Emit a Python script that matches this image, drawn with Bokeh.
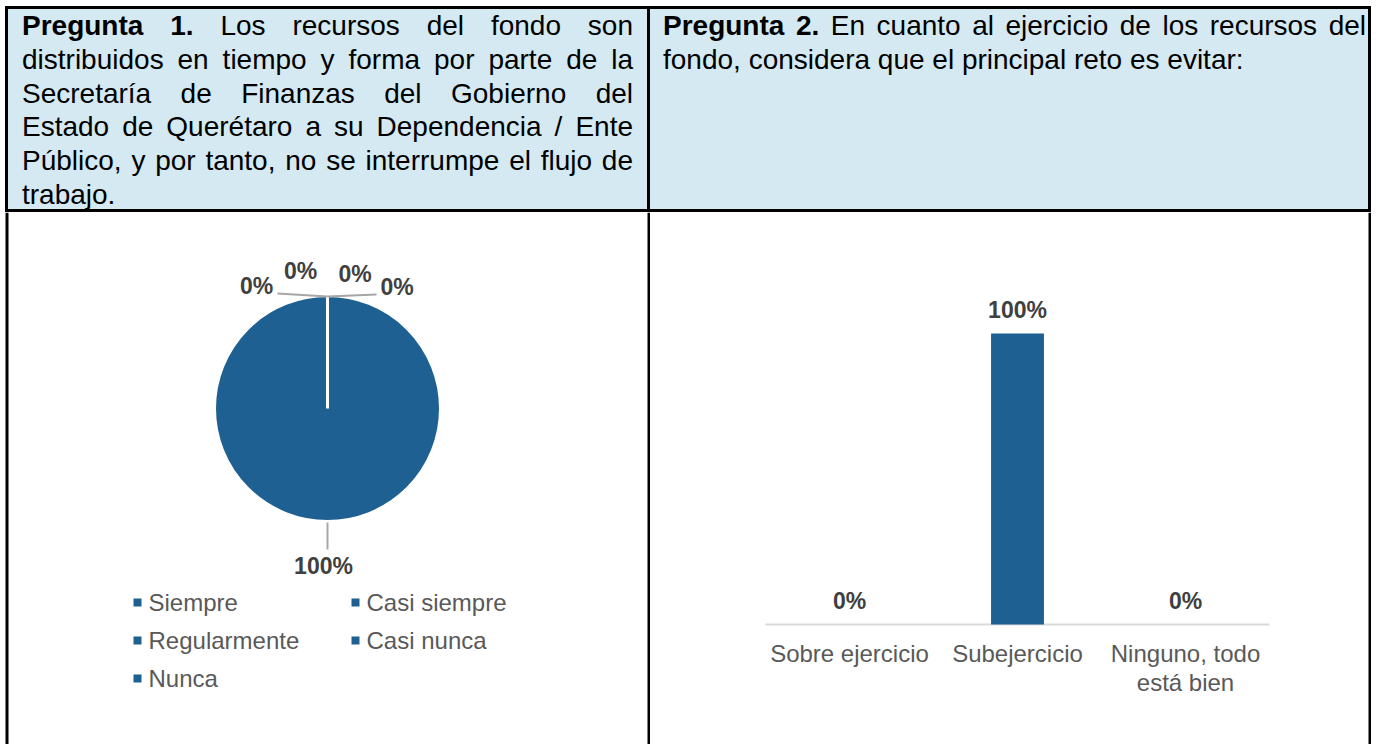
from math import pi, cos, sin
from bokeh.plotting import figure
from bokeh.models import Range1d, FactorRange, Span, Div, ColumnDataSource
from bokeh.layouts import row, column
from bokeh.core.properties import value
from bokeh.embed import file_html
from bokeh.resources import INLINE

# ---------------- data ----------------
pie_categories = ["Siempre", "Casi siempre", "Regularmente", "Casi nunca", "Nunca"]
pie_values = [100, 0, 0, 0, 0]

bar_categories = ["Sobre ejercicio", "Subejercicio", "Ninguno, todo\nestá bien"]
bar_values = [0, 100, 0]

q1_bold = "Pregunta 1."
q1_lines = [
    " Los recursos del fondo son",
    "distribuidos en tiempo y forma por parte de la",
    "Secretaría de Finanzas del Gobierno del",
    "Estado de Querétaro a su Dependencia / Ente",
    "Público, y por tanto, no se interrumpe el flujo de",
    "trabajo.",
]
q2_bold = "Pregunta 2."
q2_lines = [
    " En cuanto al ejercicio de los recursos del",
    "fondo, considera que el principal reto es evitar:",
]

# ---------------- style ----------------
BLUE = "#1F6092"
HEAD_BG = "#D4E9F2"
FONT = "Liberation Sans"
LABEL_C = "#404040"
TEXT_C = "#595959"
WL, WR, HH, HB = 650, 721, 212, 532
BAR_SHIFT = 13  # left border space of the bar cell so the chart sits where it does in the original


def header_html(bold, lines, left, width, borders, pad):
    css_b = ";".join(f"border-{s}:3px solid #000" for s in borders)
    parts = []
    for i, ln in enumerate(lines):
        content = (f"<b>{bold}</b>" if i == 0 else "") + ln
        last = i == len(lines) - 1
        just = "text-align:left" if last else "text-align:justify;text-align-last:justify"
        parts.append(f'<div style="{just};white-space:nowrap">{content}</div>')
    return (f'<div style="position:relative;left:{left}px;top:6px;box-sizing:border-box;'
            f'width:{width}px;height:{HH - 6}px;'
            f'background:{HEAD_BG};{css_b};padding:{pad};'
            f"font-family:'{FONT}',Arial,sans-serif;font-size:28px;line-height:33.8px;"
            f'color:#000;overflow:hidden;">' + "".join(parts) + "</div>")


def base_fig(w, h, **kw):
    opts = dict(width=w, height=h, output_backend="svg", toolbar_location=None,
                x_axis_location=None, y_axis_location=None, min_border=0,
                outline_line_color=None, background_fill_color="white",
                border_fill_color="white")
    opts.update(kw)
    p = figure(**opts)
    p.grid.visible = False
    return p


# ---------------- header cells ----------------
div1 = Div(text=header_html(q1_bold, q1_lines, 5, WL - 5, ["top", "left", "right", "bottom"], "0 14px 0 14px"),
           width=WL, height=HH, margin=(0, 0, 0, 0))
div2 = Div(text=header_html(q2_bold, q2_lines, 0, WR, ["top", "right", "bottom"], "0 2px 0 13px"),
           width=WR, height=HH, margin=(0, 0, 0, 0))

# ---------------- pie cell ----------------
pie = base_fig(WL, HB, x_range=Range1d(0, WL), y_range=Range1d(0, HB))
cx, cy, rad = 327, HB - 196, 113
total = float(sum(pie_values))
starts, ends, acc = [], [], 0.0
for v in pie_values:
    starts.append(pi / 2 - 2 * pi * acc / total)
    acc += v
    ends.append(pi / 2 - 2 * pi * acc / total)
src = ColumnDataSource(dict(cat=pie_categories, val=pie_values, s=starts, e=ends))
pie.wedge(x=cx, y=cy, radius=rad, radius_units="screen", start_angle="s", end_angle="e",
          direction="clock", fill_color=BLUE, line_color="white", line_width=3, source=src)

# leader lines for the zero-size slices (layout decoration)
pie.segment(x0=[277, 327], y0=[HB - 81, HB - 84], x1=[327, 376], y1=[HB - 84, HB - 82],
            line_color="#A6A6A6", line_width=2)
zero_spots = [(256, 73), (300, 58), (354.5, 61.5), (396.5, 74.5)]
lx, ly, lt = [], [], []
zi = 0
for v, s, e in zip(pie_values, starts, ends):
    if v > 0:
        mid = (s + e) / 2
        pie.segment(x0=[cx + (rad + 1) * cos(mid)], y0=[cy + (rad + 1) * sin(mid)],
                    x1=[cx + (rad + 28) * cos(mid)], y1=[cy + (rad + 28) * sin(mid)],
                    line_color="#A6A6A6", line_width=2)
        lx.append(cx + (rad + 44) * cos(mid) - 4)
        ly.append(cy + (rad + 44) * sin(mid))
    else:
        px, py = zero_spots[zi % len(zero_spots)]
        zi += 1
        lx.append(px)
        ly.append(HB - py)
    lt.append(f"{v:g}%")
pie.text(x=lx, y=ly, text=lt, text_font=value(FONT), text_font_size="23px", text_font_style="bold",
         text_color=LABEL_C, text_align="center", text_baseline="middle")

# legend (2 columns)
mk_x, mk_y = [], []
for i, c in enumerate(pie_categories):
    col, rw = i % 2, i // 2
    mk_x.append([137, 355][col])
    mk_y.append(HB - (390 + 38 * rw))
pie.scatter(x=mk_x, y=mk_y, marker="square", size=8, fill_color=BLUE, line_color=None)
pie.text(x=[x + 11 for x in mk_x], y=mk_y, text=pie_categories, text_font=value(FONT),
         text_font_size="24px", text_color=TEXT_C, text_align="left", text_baseline="middle")

pie.add_layout(Span(location=6.5, dimension="height", line_color="black", line_width=3))
pie.add_layout(Span(location=WL - 1.5, dimension="height", line_color="black", line_width=3))

# ---------------- bar cell ----------------
ncat = len(bar_categories)
px_unit = 504 / 3
frame_w = WR - BAR_SHIFT
padc = (frame_w / px_unit - ncat) / 2
px_per_pct = 2.91
bar = base_fig(WR, HB, min_border_left=BAR_SHIFT,
               x_range=FactorRange(factors=bar_categories, range_padding=padc, range_padding_units="absolute"),
               y_range=Range1d(-(HB - 412) / px_per_pct, 412 / px_per_pct))
bar.segment(x0=[0], x1=[ncat], y0=[0], y1=[0], line_color="#D9D9D9", line_width=2)
bar.vbar(x=bar_categories, top=bar_values, bottom=0, width=0.315, fill_color=BLUE, line_color=None)
bar.text(x=bar_categories, y=bar_values, text=[f"{v:g}%" for v in bar_values], y_offset=-24,
         text_font=value(FONT), text_font_size="23px", text_font_style="bold", text_color=LABEL_C,
         text_align="center", text_baseline="middle")
bar.text(x=bar_categories, y=[0] * ncat, text=bar_categories, y_offset=15,
         text_font=value(FONT), text_font_size="24px", text_color=TEXT_C,
         text_align="center", text_baseline="top", text_line_height=1.1)
bar.add_layout(Span(location=ncat + padc - 1.5 / px_unit, dimension="height",
                    line_color="black", line_width=3))

layout = row(column(div1, pie), column(div2, bar))

with open("out.html", "w") as f:
    f.write(file_html(layout, INLINE))
